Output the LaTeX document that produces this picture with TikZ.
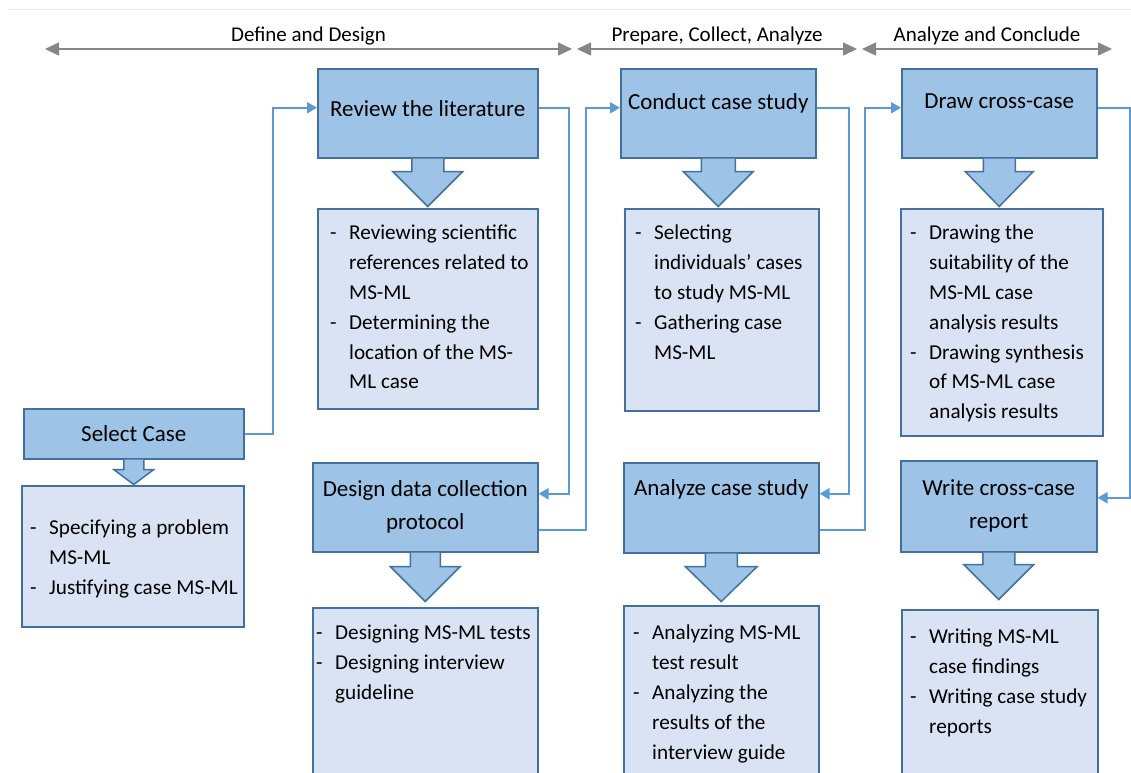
\documentclass[tikz,border=0pt]{standalone}
\usepackage{fontspec}
\setmainfont{Carlito}
\usetikzlibrary{arrows.meta,positioning}
\definecolor{boxblue}{HTML}{9DC3E6}
\definecolor{boxedge}{HTML}{41719C}
\definecolor{subblue}{HTML}{DAE3F3}
\definecolor{linkblue}{HTML}{5B9BD5}
\definecolor{phasegray}{HTML}{868686}
\tikzset{
    headbox/.style={
        draw=boxedge,
        fill=boxblue,
        line width=1.5pt,
        anchor=north west,
        align=center,
        inner sep=2pt,
        font=\fontsize{23}{33}\selectfont
    }
}
\tikzset{
    subbox/.style={draw=boxedge, fill=subblue, line width=1.5pt, anchor=north west}
}
\tikzset{
    subtext/.style={anchor=north west, inner sep=0pt, align=left,
    font=\fontsize{21.2}{29.8}\selectfont}
}
\tikzset{
    link/.style={draw=linkblue, line width=2pt, -{Triangle[length=10pt,width=11pt]}},
    phase/.style={draw=phasegray, line width=1.5pt,
    {Triangle[length=14pt,width=13pt]}-{Triangle[length=14pt,width=13pt]}},
    phasetext/.style={font=\fontsize{21}{25}\selectfont, inner sep=3pt},
    blockarrow/.style={draw=boxedge, fill=boxblue, line width=1.5pt, line join=miter},
    lift/.style={text depth=#1}
}
\newcommand{\dsh}{\makebox[19pt][l]{-}}
\newcommand{\ind}{\hspace*{19pt}}
\newcommand{\drawDown}[5]{\filldraw[blockarrow] ([xshift=-#2pt]#1.south) -- ++(0,#4) -- ++(#2-#3,0) -- ++(#3,#5) -- ++(#3,-#5) -- ++(#2-#3,0) -- ++(0,-#4)}

\begin{document}
\begin{tikzpicture}[x=1pt,y=-1pt]

    \path[use as bounding box] (0,0) rectangle (1131,772);
    \clip (0,0) rectangle (1131,772);

    \draw[black!8, line width=1pt] (8,9.5) -- (1131,9.5);

    % phases
    \coordinate (p0) at (45,49);
    \coordinate (p1) at (572,49);
    \coordinate (p2) at (577,49);
    \coordinate (p3) at (857,49);
    \coordinate (p4) at (862,49);
    \coordinate (p5) at (1112,49);

    \draw[phase] (p0) -- node[above, phasetext] (ph1) {Define and Design} (p1);
    \draw[phase] (p2) -- node[above, phasetext] (ph2) {Prepare, Collect, Analyze} (p3);
    \draw[phase] (p4) -- node[above, phasetext] (ph3) {Analyze and Conclude} (p5);

    % steps
    \node[headbox, minimum width=220pt, minimum height=50pt] (sel) at (23,408) {Select Case};
    \node[headbox, lift=9pt, minimum width=220pt, minimum height=89pt] (rev) at (317,68) {Review the literature};
    \node[headbox, minimum width=225pt, minimum height=89pt] (des) at (312,462) {Design data collection\\protocol};
    \node[headbox, lift=24pt, minimum width=195pt, minimum height=89pt] (con) at (620,68) {Conduct case study};
    \node[headbox, lift=41pt, minimum width=195pt, minimum height=90pt] (ana) at (623,462) {Analyze case study};
    \node[headbox, lift=24pt, minimum width=195pt, minimum height=89pt] (drw) at (901,68) {Draw cross-case};
    \node[headbox, minimum width=196pt, minimum height=91pt] (wri) at (900,460) {Write cross-case\\report};

    % details
    \node[subbox, minimum width=222pt, minimum height=141pt] (selD) at (21,485) {};
    \node[subbox, minimum width=220pt, minimum height=200pt] (revD) at (317,208) {};
    \node[subbox, minimum width=225pt, minimum height=190pt] (desD) at (312,607) {};
    \node[subbox, minimum width=194pt, minimum height=202pt] (conD) at (624,208) {};
    \node[subbox, minimum width=195pt, minimum height=190pt] (anaD) at (623,605) {};
    \node[subbox, minimum width=202pt, minimum height=227pt] (drwD) at (900,208) {};
    \node[subbox, minimum width=196pt, minimum height=190pt] (wriD) at (901,609) {};

    \node[subtext] (selT) at ([shift={(9,35)}]selD.north west)
        {\dsh Specifying a problem\\\ind MS-ML\\\dsh Justifying case MS-ML};
    \node[subtext] (revT) at ([shift={(13,17)}]revD.north west)
        {\dsh Reviewing scientific\\\ind references related to\\\ind MS-ML\\\dsh Determining the\\\ind location of the MS-\\\ind ML case};
    \node[subtext] (desT) at ([shift={(4,18)}]desD.north west)
        {\dsh Designing MS-ML tests\\\dsh Designing interview\\\ind guideline};
    \node[subtext] (conT) at ([shift={(11,17)}]conD.north west)
        {\dsh Selecting\\\ind individuals’ cases\\\ind to study MS-ML\\\dsh Gathering case\\\ind MS-ML};
    \node[subtext] (anaT) at ([shift={(10,20)}]anaD.north west)
        {\dsh Analyzing MS-ML\\\ind test result\\\dsh Analyzing the\\\ind results of the\\\ind interview guide};
    \node[subtext] (drwT) at ([shift={(10,17)}]drwD.north west)
        {\dsh Drawing the\\\ind suitability of the\\\ind MS-ML case\\\ind analysis results\\\dsh Drawing synthesis\\\ind of MS-ML case\\\ind analysis results};
    \node[subtext] (wriT) at ([shift={(9,20)}]wriD.north west)
        {\dsh Writing MS-ML\\\ind case findings\\\dsh Writing case study\\\ind reports};

    % block arrows
    \drawDown{sel}{10}{20}{10}{15};
    \drawDown{rev}{16}{35}{13}{35};
    \drawDown{des}{15}{35}{14}{35};
    \drawDown{con}{17}{35}{13}{35};
    \drawDown{ana}{16}{36}{13}{35};
    \drawDown{drw}{16}{34}{13}{35};
    \drawDown{wri}{16}{35}{12}{35};

    % flow
    \draw[link] (sel.east) -- ++(28,0) |- ([yshift=5.5pt]rev.west);
    \draw[link] ([yshift=5.5pt]rev.east) -- ++(30,0) |- ([yshift=13.5pt]des.east);
    \draw[link] ([yshift=-22.5pt]des.east) -- ++(47,0) |- ([yshift=5.5pt]con.west);
    \draw[link] ([yshift=5.5pt]con.east) -- ++(32,0) |- ([yshift=14pt]ana.east);
    \draw[link] ([yshift=-22.5pt]ana.east) -- ++(45,0) |- ([yshift=5.5pt]drw.west);
    \draw[link] ([yshift=5.5pt]drw.east) -- ++(32,0) |- ([yshift=8.5pt]wri.east);

\end{tikzpicture}
\end{document}
